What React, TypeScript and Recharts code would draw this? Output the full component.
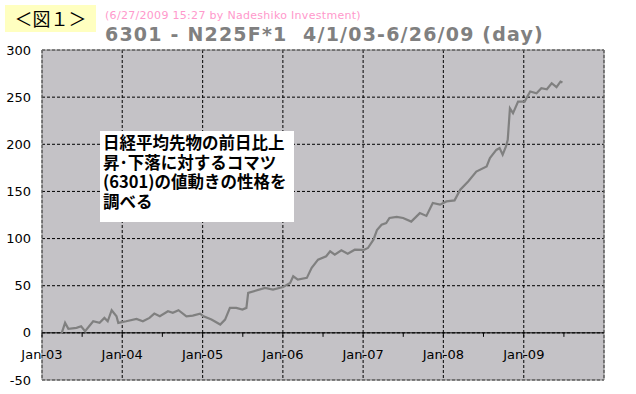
import React from "react";
import {
    LineChart,
    Line,
    XAxis,
    YAxis,
    CartesianGrid,
    ReferenceLine,
    ReferenceArea,
} from "recharts";

// trading dates and cumulative values
const dates = [
    "2003-04-01", "2003-04-16", "2003-05-01", "2003-06-07", "2003-06-28", "2003-07-16",
    "2003-08-22", "2003-09-20", "2003-10-12", "2003-10-27", "2003-11-14", "2003-12-06",
    "2003-12-14", "2004-01-19", "2004-03-06", "2004-04-04", "2004-05-04", "2004-05-26",
    "2004-06-20", "2004-07-27", "2004-08-18", "2004-09-13", "2004-10-19", "2004-11-17",
    "2004-12-20", "2005-01-05", "2005-02-10", "2005-03-22", "2005-04-13", "2005-05-05",
    "2005-06-03", "2005-07-01", "2005-07-19", "2005-07-27", "2005-10-12", "2005-11-17",
    "2006-01-02", "2006-02-03", "2006-02-17", "2006-03-10", "2006-04-20", "2006-05-12",
    "2006-06-10", "2006-07-17", "2006-08-04", "2006-08-25", "2006-09-24", "2006-10-23",
    "2006-11-24", "2007-01-04", "2007-01-23", "2007-02-17", "2007-03-05", "2007-03-26",
    "2007-04-16", "2007-05-01", "2007-06-03", "2007-07-02", "2007-08-08", "2007-09-16",
    "2007-10-16", "2007-11-14", "2007-12-17", "2008-01-15", "2008-02-21", "2008-03-18",
    "2008-04-23", "2008-05-30", "2008-07-16", "2008-07-31", "2008-08-29", "2008-09-13",
    "2008-09-27", "2008-10-12", "2008-10-20", "2008-10-30", "2008-11-13", "2008-12-06",
    "2009-01-05", "2009-01-30", "2009-02-28", "2009-03-22", "2009-04-16", "2009-05-08",
    "2009-05-30", "2009-06-17", "2009-06-26",
];

const values = [
    0, 10.6, 4.2, 5.3, 7, 1.8,
    12.3, 10.6, 15.9, 12.3, 24, 17.6,
    10.6, 12.3, 14.8, 12.3, 15.9, 20.4,
    17.6, 22.9, 21.2, 24, 17.6, 18.3,
    20.4, 17.6, 14.1, 8.8, 14.1, 26.5,
    26.5, 24.7, 26.5, 42.4, 47.7, 45.9,
    48.7, 53, 60, 56.5, 58.3, 68.9,
    77.6, 81.2, 86.5, 83, 87.5, 84,
    88.2, 88, 90, 98.8, 109, 114.7,
    116.5, 121.8, 123, 121.8, 118, 127,
    124, 137.7, 136, 139.4, 140.5, 151.8,
    160.6, 171, 176.5, 185.4, 194, 196,
    189, 197.7, 204.7, 238, 233, 245.3,
    245.3, 256, 254, 259.5, 258.4, 264.8,
    260.6, 266.5, 265.5,
];

const yearTicks = [2003, 2004, 2005, 2006, 2007, 2008, 2009];
const yTicks = [-50, 0, 50, 100, 150, 200, 250, 300];
const noteLines = [
    "日経平均先物の前日比上",
    "昇･下落に対するコマツ",
    "(6301)の値動きの性格を",
    "調べる",
];

const W = 636;
const H = 394;
const PLOT_TOP = 50;
const PLOT_LEFT = 42;
const PLOT_RIGHT = 604;
const PLOT_BOTTOM = 380;
const PLOT_H = PLOT_BOTTOM - PLOT_TOP;
const PLOT_W = PLOT_RIGHT - PLOT_LEFT;

const T0 = Date.UTC(2003, 0, 1);
const T1 = Date.UTC(2010, 0, 1);

const chartData = dates.map((d, i) => {
    const [y, m, day] = d.split("-").map(Number);
    return { t: Date.UTC(y, m - 1, day), v: values[i] };
});

const font = "'DejaVu Sans', sans-serif";

// x axis sits on the zero line in the original, so the labels and ticks are drawn there
const YearTick = (props: any) => {
    const { x, y, payload } = props;
    const year = new Date(payload.value).getUTCFullYear();
    const zeroY = y - (PLOT_H * 50) / 350;
    const half = PLOT_W / 14;
    return (
        <g>
            <line x1={x} x2={x} y1={zeroY} y2={zeroY + 4} stroke="#000" />
            <line x1={x + half} x2={x + half} y1={zeroY} y2={zeroY + 4} stroke="#000" />
            <text x={x} y={zeroY + 26} textAnchor="middle" fontSize={13} fontFamily={font} fill="#000">
                {"Jan-" + String(year).slice(2)}
            </text>
        </g>
    );
};

const App: React.FC = () => {
    return (
        <div style={{ position: "absolute", left: 0, top: 0, width: W, height: H, background: "#fff" }}>
            <LineChart
                width={W}
                height={H}
                data={chartData}
                margin={{ top: PLOT_TOP, right: W - PLOT_RIGHT, bottom: 0, left: 0 }}
            >
                <CartesianGrid fill="#C4C2C6" fillOpacity={1} stroke="#000" strokeDasharray="3 2" />
                <XAxis
                    type="number"
                    dataKey="t"
                    domain={[T0, T1]}
                    ticks={yearTicks.map((y) => Date.UTC(y, 0, 1))}
                    height={H - PLOT_BOTTOM}
                    axisLine={false}
                    tickLine={false}
                    tickSize={0}
                    tickMargin={0}
                    tick={<YearTick />}
                    interval={0}
                />
                <YAxis
                    domain={[-50, 300]}
                    ticks={yTicks}
                    width={PLOT_LEFT}
                    axisLine={false}
                    tickLine={false}
                    tickSize={0}
                    tickMargin={11}
                    interval={0}
                    tick={{ fontSize: 13, fontFamily: font, fill: "#000" }}
                />
                <ReferenceLine y={0} stroke="#000" />
                <ReferenceArea x1={T0} x2={T1} y1={-50} y2={300} fill="none" stroke="#808080" />
                <Line
                    type="linear"
                    dataKey="v"
                    stroke="#808080"
                    strokeWidth={2.2}
                    dot={false}
                    isAnimationActive={false}
                />
            </LineChart>

            <div style={{
                position: "absolute", left: 5, top: 5, width: 91, height: 27,
                background: "#FFFFC0", fontFamily: "'Noto Sans CJK JP', sans-serif",
                fontSize: 18, lineHeight: "27px", textAlign: "center", color: "#000"
            }}>
                ＜図１＞
            </div>
            <div style={{
                position: "absolute", left: 105, top: 9, fontFamily: font, fontSize: 11,
                letterSpacing: 0.3, color: "#FF99CC", whiteSpace: "pre"
            }}>
                (6/27/2009 15:27 by Nadeshiko Investment)
            </div>
            <div style={{
                position: "absolute", left: 105, top: 23, fontFamily: font, fontSize: 19,
                fontWeight: 700, letterSpacing: 1.2, color: "#808080", whiteSpace: "pre", lineHeight: "22px"
            }}>
                {"6301 - N225F*1  4/1/03-6/26/09 (day)"}
            </div>
            <div style={{
                position: "absolute", left: 100, top: 131, width: 194, height: 91,
                background: "#fff", fontFamily: "'Noto Sans CJK JP', sans-serif",
                fontSize: 16.5, fontWeight: 700, lineHeight: "19.5px", color: "#000",
                padding: "2px 0 0 3px", boxSizing: "border-box", whiteSpace: "pre"
            }}>
                {noteLines.join("\n")}
            </div>
        </div>
    );
};

export default App;
